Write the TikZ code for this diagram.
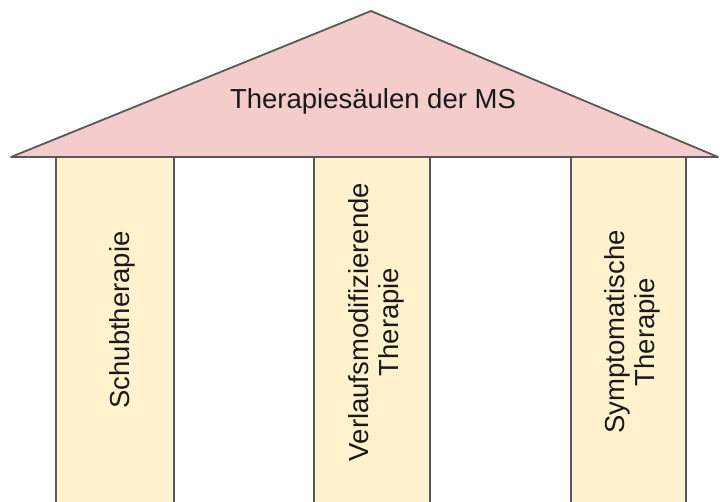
\documentclass[tikz,border=0pt]{standalone}
\usepackage{fontspec}
\setmainfont{Liberation Sans}
\definecolor{roofpink}{HTML}{F4CCCC}
\definecolor{pillaryellow}{HTML}{FFF2CC}
\definecolor{edgegray}{HTML}{595959}
\begin{document}
\begin{tikzpicture}[x=1pt,y=1pt,
  pillarbox/.style={fill=pillaryellow,draw=edgegray,line width=1.8pt},
  roofshape/.style={fill=roofpink,draw=edgegray,line width=1.8pt,line join=round},
  label/.style={font=\fontsize{27.5}{30}\selectfont,text=black!90,align=center,inner sep=0pt}]
\useasboundingbox (0,0) rectangle (720,502);
\clip (0,0) rectangle (720,502);
\fill[white] (0,0) rectangle (720,502);
% pillars
\path[pillarbox] (56,-10) rectangle (174,345);
\path[pillarbox] (314,-10) rectangle (430,345);
\path[pillarbox] (571,-10) rectangle (686,345);
% roof
\path[roofshape] (11,345) -- (371,491) -- (718,345) -- cycle;
% texts
\node[label] (title) at (373,401) {Therapiesäulen der MS};
\node[label,rotate=90] (p1) at (122,182) {Schubtherapie};
\node[label,rotate=90] (p2) at (376,180) {Verlaufsmodifizierende\\Therapie};
\node[label,rotate=90] (p3) at (632,170) {Symptomatische\\Therapie};
\end{tikzpicture}
\end{document}
